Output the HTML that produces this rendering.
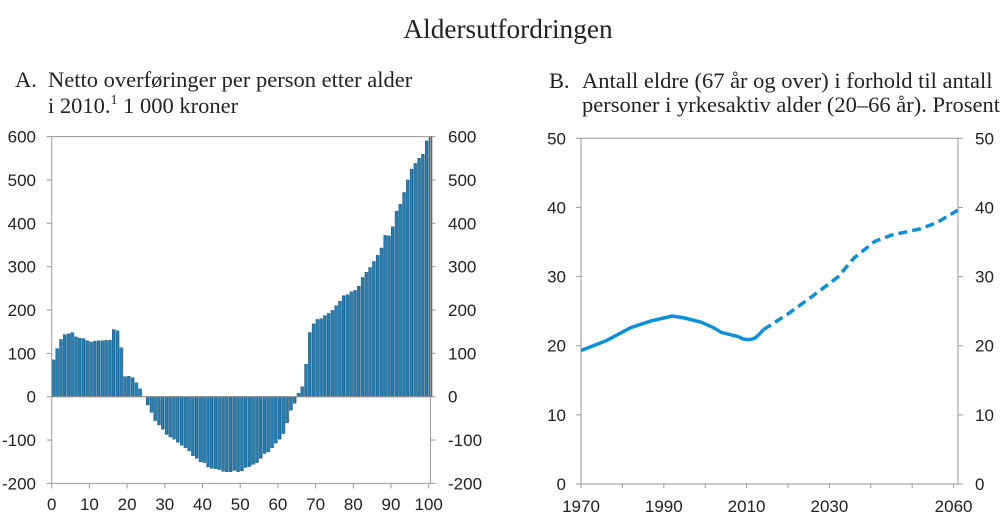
<!DOCTYPE html>
<html><head><meta charset="utf-8"><style>
body{margin:0;background:#fff;}
svg{display:block;}
.t{font-family:"Liberation Serif",serif;fill:#222;}
.k{font-family:"Liberation Sans",sans-serif;font-size:17px;fill:#222;}
</style></head><body>
<svg id="c" width="1000" height="532" viewBox="0 0 1000 532">
<text class="t" x="508" y="38" font-size="27.3" text-anchor="middle">Aldersutfordringen</text>
<g>
<text class="t" x="15" y="87" font-size="22.5">A.</text>
<text class="t" x="48" y="87" font-size="22.5">Netto overføringer per person etter alder</text>
<text class="t" x="48" y="113" font-size="22.5">i 2010.<tspan font-size="14" dy="-9">1</tspan><tspan dy="9"> 1 000 kroner</tspan></text>
</g>
<g>
<text class="t" x="549" y="88" font-size="22.5">B.</text>
<text class="t" x="582" y="88" font-size="22.5">Antall eldre (67 år og over) i forhold til antall</text>
<text class="t" x="582" y="112" font-size="22.5">personer i yrkesaktiv alder (20–66 år). Prosent</text>
</g>
<g id="A"></g><g id="B"></g>
</svg>
<script>
const ages = Array.from({length:101},(_,i)=>i);
const transfers = [85,111,132,143,145,148,138,135,134,129,126,128,129,129,130,130,155,152,113,46,47,44,32,18,0,-19,
-36,-55,-65,-75,-87,-93,-98,-105,-112,-118,-125,-136,-142,-150,-152,-162,-165,-166,-168,-172,-173,-173,-170,-173,
-171,-163,-161,-156,-152,-142,-131,-127,-118,-107,-98,-85,-60,-31,-15,8,23,75,148,168,178,180,187,192,199,210,220,233,235,242,245,255,275,287,298,312,326,343,372,371,392,428,444,471,500,525,538,550,559,590,600];
const aTicksY = [600,500,400,300,200,100,0,-100,-200];
const aTicksX = [0,10,20,30,40,50,60,70,80,90,100];

const years = [1970,1976,1982,1987,1990,1992,1995,1999,2002,2004,2006,2008,2009,2010,2011,2012,2013,2014,2020,2026,2032,2036,2041,2045,2052,2056,2061];
const ratio = [19.3,20.7,22.6,23.6,24.0,24.3,24.0,23.4,22.6,21.9,21.6,21.3,21.0,20.9,20.9,21.1,21.6,22.3,24.6,27.2,29.9,32.7,35.1,36.0,36.9,37.8,39.6];
const projectionStart = 2014;
const bTicksY = [0,10,20,30,40,50];
const bTicksX = [1970,1990,2010,2030,2060];
const bMinorX = [1970,1980,1990,2000,2010,2020,2030,2040,2050,2060];

const NS="http://www.w3.org/2000/svg";
function mk(p,tag,at){const e=document.createElementNS(NS,tag);for(const k in at)e.setAttribute(k,at[k]);p.appendChild(e);return e;}
function txt(p,x,y,s,anchor){const e=mk(p,'text',{x:x,y:y,class:'k','text-anchor':anchor});e.textContent=s;return e;}

// Panel A
const A=document.getElementById('A');
const ax0=51.7, bw=3.77, ax=a=>ax0+a*bw, ay=v=>396.7-v*0.4335;
const axR=ax0+101*bw-2;
for(const v of aTicksY){
  const l=mk(A,'line',{x1:ax0-5,x2:ax0,y1:ay(v),y2:ay(v),stroke:'#999'});
  
  
  mk(A,'line',{x1:axR,x2:axR+5,y1:ay(v),y2:ay(v),stroke:'#999'});
  const t=txt(A,36,ay(v)+6,String(v),'end');
  
  
  const t2=txt(A,448,ay(v)+6,String(v),'start');
  
  
}
ages.forEach((a,i)=>{
  const v=transfers[i];
  const y0=ay(Math.max(v,0)), h=Math.abs(ay(v)-ay(0));
  mk(A,'rect',{x:ax(a)+bw*0.7,y:y0,width:bw*0.3,height:h,fill:'#9a9a9a'});
  const r=mk(A,'rect',{x:ax(a)+0.3,y:y0,width:bw*0.65,height:h,fill:'#1587c8',stroke:'#1d4f70','stroke-width':0.5});
  
  
});
mk(A,'line',{x1:ax0,x2:axR,y1:ay(0),y2:ay(0),stroke:'#888','stroke-width':1.2});
mk(A,'line',{x1:ax0,x2:axR,y1:ay(600),y2:ay(600),stroke:'#999'});
const aL=mk(A,'line',{x1:ax0,x2:ax0,y1:ay(600),y2:ay(-200),stroke:'#999'});


mk(A,'line',{x1:axR,x2:axR,y1:ay(600),y2:ay(-200),stroke:'#999'});
const aX=mk(A,'line',{x1:ax0,x2:axR,y1:ay(-200),y2:ay(-200),stroke:'#999'});


for(const a of aTicksX){
  mk(A,'line',{x1:ax(a),x2:ax(a),y1:ay(-200),y2:ay(-200)+5,stroke:'#999'});
  const t=txt(A,ax(a),510,String(a),'middle');
  
  
}

// Panel B
const B=document.getElementById('B');
const bx=y=>581+(y-1970)*4.14, by=v=>484-v*6.915;
const bR=958;
mk(B,'line',{x1:bx(1970),x2:bR,y1:by(50),y2:by(50),stroke:'#999'});
for(const v of bTicksY){
  mk(B,'line',{x1:576,x2:581,y1:by(v),y2:by(v),stroke:'#999'});
  mk(B,'line',{x1:bR,x2:bR+5,y1:by(v),y2:by(v),stroke:'#999'});
  const t=txt(B,566,by(v)+6,String(v),'end');
  
  
  const t2=txt(B,975,by(v)+6,String(v),'start');
  
  
}
const bL=mk(B,'line',{x1:581,x2:581,y1:by(50),y2:by(0),stroke:'#999'});


mk(B,'line',{x1:bR,x2:bR,y1:by(50),y2:by(0),stroke:'#999'});
const bX=mk(B,'line',{x1:581,x2:bR,y1:by(0),y2:by(0),stroke:'#999'});


for(const y of bMinorX) mk(B,'line',{x1:bx(y),x2:bx(y),y1:by(0),y2:by(0)+4,stroke:'#999'});
for(const y of bTicksX){
  const t=txt(B,bx(y),512,String(y),'middle');
  
  
}
let solid='',dash='';
years.forEach((y,i)=>{
  const p=bx(y).toFixed(1)+','+by(ratio[i]).toFixed(1)+' ';
  if(y<=projectionStart) solid+=p;
  if(y>=projectionStart) dash+=p;
});
const s=mk(B,'polyline',{points:solid,fill:'none',stroke:'#0d90d8','stroke-width':3.5,'stroke-linejoin':'round'});


const d=mk(B,'polyline',{points:dash,fill:'none',stroke:'#0d90d8','stroke-width':3.5,'stroke-dasharray':'9,5'});


</script>
</body></html>
